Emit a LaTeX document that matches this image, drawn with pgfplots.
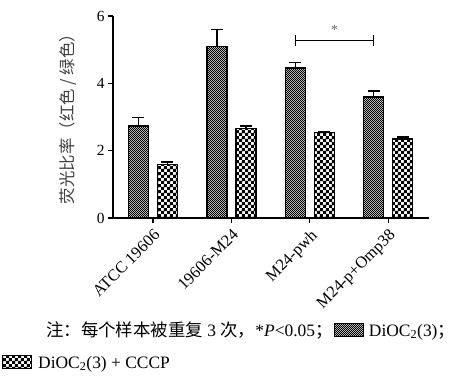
\documentclass[border=0pt]{standalone}
\usepackage{fontspec}
\setmainfont{Liberation Serif}
\newfontfamily\cjk{Noto Sans CJK SC}
\usepackage{pgfplots}
\pgfplotsset{compat=1.18}
\usetikzlibrary{patterns}
\pgfdeclarepatternformonly{finecheck}{\pgfpointorigin}{\pgfqpoint{2pt}{2pt}}{\pgfqpoint{2pt}{2pt}}{%
 \pgfpathrectangle{\pgfpointorigin}{\pgfqpoint{1.05pt}{1.05pt}}%
 \pgfpathrectangle{\pgfqpoint{1pt}{1pt}}{\pgfqpoint{1.05pt}{1.05pt}}%
 \pgfusepath{fill}}
\pgfdeclarepatternformonly{coarsecheck}{\pgfpointorigin}{\pgfqpoint{6pt}{6pt}}{\pgfqpoint{6pt}{6pt}}{%
 \pgfpathrectangle{\pgfpointorigin}{\pgfqpoint{3.05pt}{3.05pt}}%
 \pgfpathrectangle{\pgfqpoint{3pt}{3pt}}{\pgfqpoint{3.05pt}{3.05pt}}%
 \pgfusepath{fill}}
\begin{document}
\begin{tikzpicture}
\useasboundingbox (-113bp,-163bp) rectangle (342bp,218bp);
\begin{axis}[
 at={(0,0)}, anchor=south west,
 scale only axis, width=316bp, height=202bp,
 xmin=-0.51, xmax=3.52, ymin=0, ymax=6,
 axis lines=left, axis line style={line width=1.6bp, -},
 ytick={0,2,4,6}, xtick={0,1,2,3},
 xticklabels={ATCC 19606,19606-M24,M24-pwh,M24-p+Omp38},
 tick align=outside, major tick length=5bp, tick style={line width=1.2bp, black},
 xticklabel style={rotate=45, anchor=north east, font=\fontsize{16.5}{16.5}\selectfont, inner sep=0pt},
 xticklabel shift=5bp,
 yticklabel style={font=\fontsize{15.5}{15.5}\selectfont},
 /pgf/number format/assume math mode=true,
 ylabel={\cjk 荧光比率（红色 / 绿色）},
 ylabel style={at={(axis description cs:-0.144,0.51)}, anchor=center, font=\fontsize{16.5}{16.5}\selectfont, text=black!75},
 ybar, bar width=20bp,
 clip=false,
]
\addplot[bar shift=-14.5bp, draw=black, line width=1.5bp, pattern=finecheck,
  error bars/.cd, y dir=plus, y explicit, error bar style={line width=1.5bp, black},
  error mark options={rotate=90, mark size=6bp, line width=1.5bp, black}]
  coordinates {(0,2.73) +- (0,0.26) (1,5.09) +- (0,0.51) (2,4.46) +- (0,0.16) (3,3.59) +- (0,0.18)};
\addplot[bar shift=14.5bp, draw=black, line width=1.5bp, pattern=coarsecheck,
  error bars/.cd, y dir=plus, y explicit, error bar style={line width=1.5bp, black},
  error mark options={rotate=90, mark size=6bp, line width=1.5bp, black}]
  coordinates {(0,1.59) +- (0,0.07) (1,2.66) +- (0,0.07) (2,2.54) +- (0,0.03) (3,2.34) +- (0,0.07)};
\draw[line width=1.1bp] (axis cs:1.815,5.11) -- (axis cs:1.815,5.43);
\draw[line width=1.1bp] (axis cs:2.815,5.11) -- (axis cs:2.815,5.43);
\draw[line width=1.1bp] (axis cs:1.815,5.27) -- (axis cs:2.815,5.27);
\node[text=black!60, font=\fontsize{14}{14}\selectfont] at (axis cs:2.315,5.58) {*};
\end{axis}
\node[anchor=base west, inner sep=0, font=\fontsize{17.5}{17.5}\selectfont] (c1) at (-67bp,-118bp) {{\cjk 注：每个样本被重复} 3 {\cjk 次，}*\textit{P}<0.05{\cjk ；}};
\draw[line width=1bp, pattern=finecheck] ([xshift=2bp]c1.base east) rectangle ++(29bp,12.5bp);
\node[anchor=base west, inner sep=0, font=\fontsize{17.5}{17.5}\selectfont] at ([xshift=36bp]c1.base east) {DiOC\textsubscript{2}(3){\cjk ；}};
\draw[line width=1bp, pattern=coarsecheck] (-110bp,-150bp) rectangle (-81bp,-137.5bp);
\node[anchor=base west, inner sep=0, font=\fontsize{17.5}{17.5}\selectfont] at (-75bp,-150bp) {DiOC\textsubscript{2}(3) + CCCP};
\end{tikzpicture}
\end{document}
